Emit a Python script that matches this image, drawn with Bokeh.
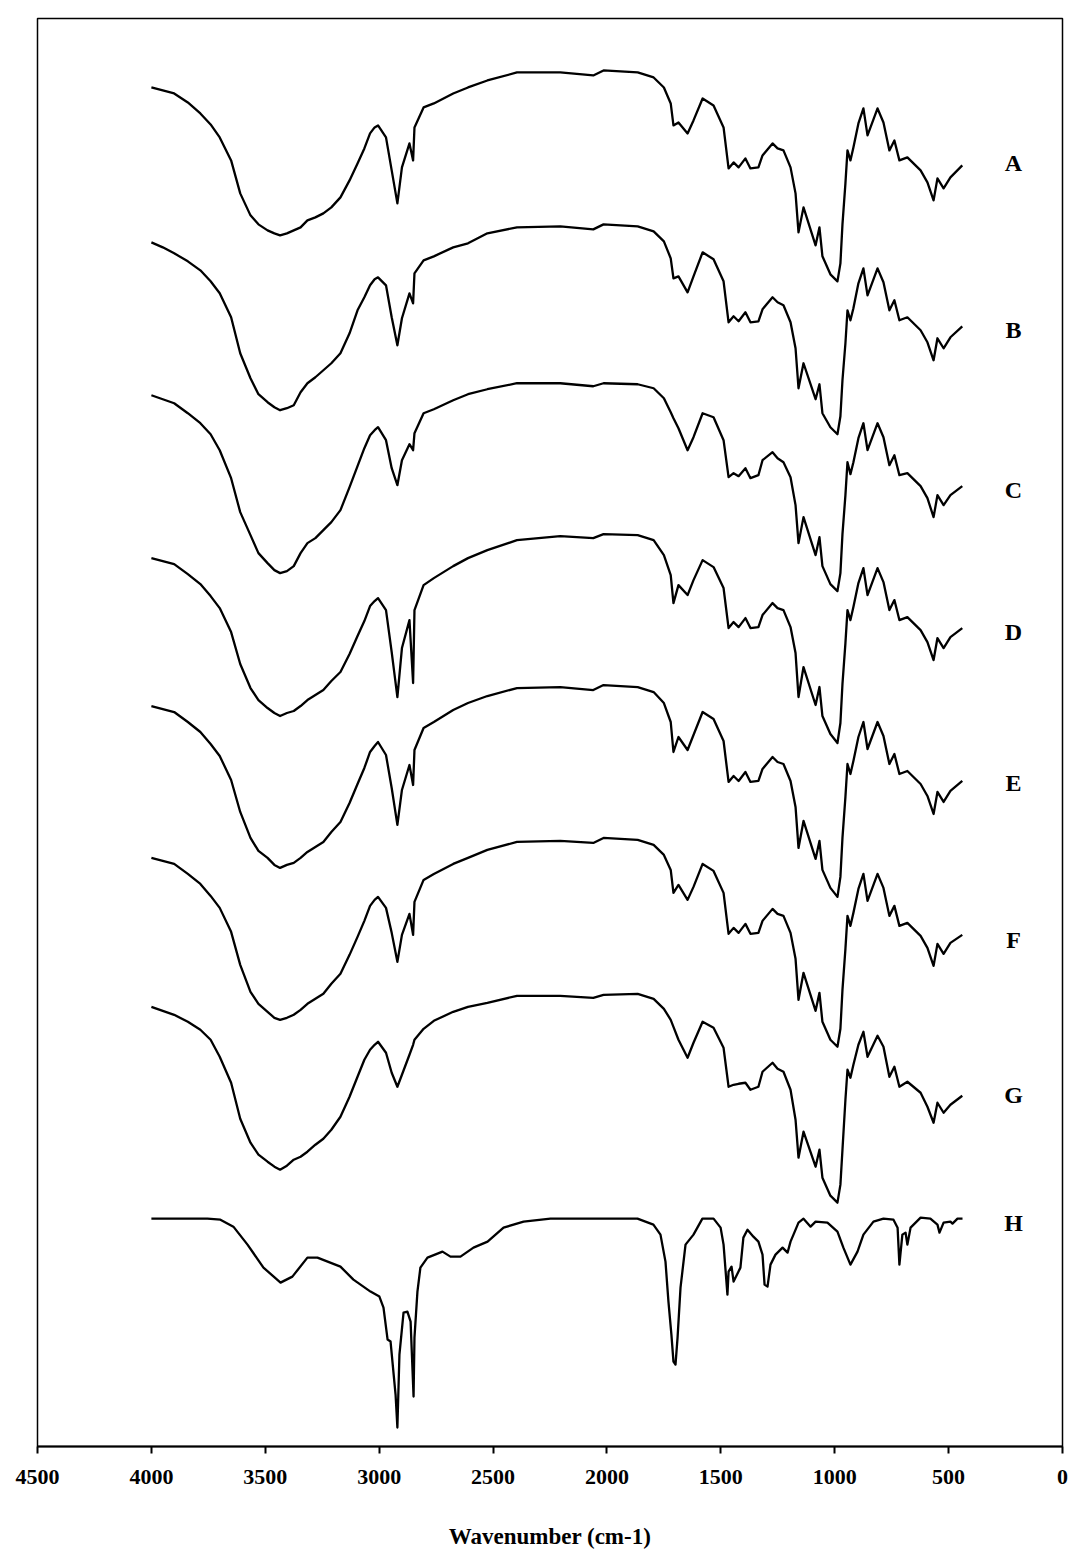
from bokeh.plotting import figure
from bokeh.models import Range1d, FixedTicker
from bokeh.embed import file_html
from bokeh.resources import INLINE
from bokeh.core.properties import value

# Wavenumber grid shared by the seven starch-type spectra (cm-1)
wavenumber = [
    4000, 3950, 3900, 3840, 3785, 3740, 3700, 3650, 3610, 3565,
    3530, 3490, 3460, 3435, 3405, 3375, 3345, 3315, 3280, 3245,
    3210, 3170, 3130, 3095, 3065, 3040, 3020, 3005, 2970, 2945,
    2920, 2900, 2867, 2851, 2845, 2805, 2760, 2675, 2610, 2525,
    2395, 2205, 2060, 2015, 1865, 1795, 1750, 1720, 1708, 1686,
    1646, 1620, 1580, 1532, 1488, 1466, 1444, 1422, 1392, 1370,
    1335, 1317, 1273, 1251, 1225, 1194, 1172, 1159, 1137, 1084,
    1067, 1054, 1019, 988, 975, 966, 953, 944, 931, 918,
    896, 874, 856, 812, 786, 760, 738, 716, 681, 623,
    593, 566, 549, 522, 492, 440,
]

# Stacked signal (offset units, larger = lower on the chart)
spec_A = [
    87, 90, 93, 102, 113, 124, 137, 160, 193, 215,
    224, 230, 233, 235, 233, 230, 227, 220, 217, 213,
    207, 197, 180, 163, 148, 133, 127, 125, 137, 170,
    203, 167, 143, 160, 127, 107, 103, 93, 87, 80,
    72, 72, 75, 70, 72, 77, 87, 103, 125, 122,
    133, 120, 98, 105, 127, 168, 162, 167, 158, 168,
    167, 155, 143, 148, 150, 167, 193, 232, 207, 245,
    227, 256, 274, 281, 263, 224, 183, 150, 160, 147,
    123, 108, 135, 108, 122, 150, 140, 160, 157, 170,
    182, 200, 178, 188, 177, 165,
]
spec_B = [
    242, 247, 253, 261, 270, 281, 293, 317, 353, 378,
    394, 402, 407, 410, 408, 405, 392, 383, 377, 370,
    363, 353, 333, 310, 297, 285, 279, 277, 285, 317,
    345, 318, 293, 303, 273, 260, 256, 247, 243, 233,
    227, 226, 229, 224, 226, 231, 241, 258, 278, 276,
    292, 276, 252, 259, 281, 322, 316, 321, 312, 322,
    321, 309, 297, 302, 305, 322, 348, 388, 363, 399,
    384, 413, 427, 434, 416, 380, 343, 310, 320, 308,
    283, 268, 295, 268, 282, 310, 300, 320, 317, 330,
    342, 360, 338, 348, 337, 326,
]
spec_C = [
    395, 399, 403, 413, 423, 434, 450, 478, 512, 535,
    553, 563, 570, 573, 571, 566, 553, 543, 538, 530,
    522, 510, 487, 466, 448, 435, 430, 427, 440, 468,
    485, 460, 444, 450, 433, 413, 409, 400, 394, 389,
    383, 383, 386, 383, 384, 388, 398, 412, 418, 428,
    450, 437, 413, 417, 440, 477, 473, 476, 468, 478,
    475, 460, 452, 458, 462, 477, 505, 543, 517, 555,
    537, 566, 584, 591, 573, 534, 495, 462, 474, 462,
    438, 423, 450, 423, 437, 465, 455, 475, 473, 486,
    498, 517, 495, 505, 495, 486,
]
spec_D = [
    558, 561, 564, 574, 584, 596, 608, 632, 664, 688,
    700, 708, 713, 716, 713, 711, 706, 700, 695, 690,
    681, 672, 654, 636, 621, 606, 601, 598, 610, 652,
    697, 648, 620, 683, 610, 585, 578, 566, 558, 550,
    540, 536, 538, 534, 535, 540, 555, 575, 603, 585,
    595, 580, 560, 567, 588, 628, 622, 627, 618, 628,
    627, 615, 603, 608, 610, 627, 653, 697, 667, 705,
    687, 716, 734, 743, 723, 684, 643, 610, 620, 607,
    583, 568, 595, 568, 582, 610, 600, 620, 617, 630,
    642, 660, 638, 648, 637, 628,
]
spec_E = [
    706, 709, 712, 722, 732, 744, 756, 780, 812, 838,
    851, 858, 865, 868, 865, 863, 858, 852, 847, 842,
    832, 822, 803, 784, 768, 752, 746, 742, 755, 788,
    825, 790, 765, 785, 750, 728, 722, 710, 703, 696,
    688, 687, 690, 685, 687, 692, 703, 722, 752, 737,
    750, 735, 712, 719, 741, 782, 776, 781, 772, 782,
    781, 769, 757, 762, 764, 781, 807, 848, 821, 859,
    841, 870, 888, 897, 877, 838, 797, 764, 774, 761,
    737, 722, 749, 722, 736, 764, 754, 774, 771, 784,
    796, 814, 792, 802, 791, 781,
]
spec_F = [
    858, 861, 864, 874, 884, 896, 908, 932, 965, 992,
    1004, 1012, 1018, 1020, 1018, 1015, 1010, 1004, 999, 994,
    984, 974, 955, 937, 921, 906, 900, 897, 908, 933,
    962, 935, 914, 935, 902, 880, 874, 864, 858, 850,
    842, 841, 843, 838, 840, 845, 855, 870, 893, 885,
    900, 887, 864, 871, 893, 934, 928, 933, 924, 934,
    933, 921, 909, 914, 916, 933, 959, 1000, 973, 1011,
    993, 1022, 1040, 1047, 1029, 990, 949, 916, 926, 913,
    889, 874, 901, 874, 888, 916, 906, 926, 923, 936,
    948, 966, 944, 954, 943, 935,
]
spec_G = [
    1007, 1011, 1015, 1022, 1030, 1040, 1057, 1083, 1119, 1143,
    1155, 1162, 1167, 1170, 1166, 1160, 1157, 1152, 1145, 1139,
    1130, 1117, 1097, 1077, 1060, 1050, 1045, 1042, 1053, 1073,
    1087, 1075, 1055, 1045, 1040, 1029, 1021, 1012, 1007, 1003,
    996, 996, 998, 995, 994, 999, 1009, 1020, 1027, 1040,
    1058, 1043, 1022, 1028, 1048, 1087, 1085, 1084, 1083, 1090,
    1087, 1072, 1063, 1069, 1072, 1090, 1120, 1158, 1132, 1167,
    1150, 1178, 1196, 1203, 1185, 1150, 1100, 1070, 1078, 1065,
    1045, 1032, 1057, 1036, 1047, 1077, 1067, 1087, 1082, 1093,
    1107, 1123, 1103, 1113, 1105, 1096,
]

# Wax-type reference spectrum H on its own grid
wavenumber_H = [
    4000, 3754, 3697, 3640, 3578, 3508, 3433, 3381, 3315, 3271,
    3170, 3113, 3038, 2999, 2981, 2963, 2950, 2928, 2920, 2911,
    2893, 2876, 2862, 2849, 2845, 2832, 2819, 2788, 2722, 2687,
    2643, 2586, 2524, 2454, 2366, 2248, 1866, 1796, 1765, 1743,
    1730, 1717, 1708, 1699, 1690, 1677, 1655, 1620, 1581, 1532,
    1501, 1488, 1471, 1466, 1453, 1444, 1414, 1401, 1383, 1357,
    1335, 1317, 1308, 1295, 1282, 1260, 1229, 1207, 1194, 1181,
    1159, 1137, 1106, 1084, 1032, 988, 962, 931, 900, 874,
    830, 786, 742, 724, 716, 703, 689, 681, 667, 623,
    580, 549, 540, 522, 492, 483, 461, 439,
]
spec_H = [
    1219, 1219, 1220, 1227, 1245, 1268, 1283, 1277, 1258, 1258,
    1267, 1280, 1292, 1297, 1308, 1340, 1342, 1395, 1428, 1355,
    1313, 1312, 1322, 1397, 1338, 1292, 1268, 1258, 1252, 1257,
    1257, 1248, 1242, 1228, 1222, 1219, 1219, 1225, 1235, 1262,
    1302, 1335, 1362, 1365, 1338, 1288, 1245, 1235, 1219, 1219,
    1228, 1245, 1295, 1272, 1267, 1282, 1268, 1238, 1230, 1237,
    1242, 1255, 1285, 1287, 1265, 1255, 1248, 1253, 1242, 1235,
    1223, 1219, 1227, 1222, 1223, 1232, 1248, 1265, 1252, 1235,
    1222, 1219, 1220, 1228, 1265, 1235, 1233, 1245, 1228, 1218,
    1219, 1225, 1233, 1223, 1222, 1224, 1219, 1219,
]

trace_names = ["A", "B", "C", "D", "E", "F", "G", "H"]
trace_label_level = [163, 330, 490, 632, 783, 940, 1095, 1223]
x_ticks = [0, 500, 1000, 1500, 2000, 2500, 3000, 3500, 4000, 4500]

FONT = "Liberation Serif"

p = figure(
    width=1070, height=1551,
    x_range=Range1d(4500, 0), y_range=Range1d(1447, 18),
    output_backend="svg", toolbar_location=None, title=None,
    y_axis_location=None,
    min_border_left=37, min_border_right=8,
    min_border_top=18, min_border_bottom=104,
)
p.grid.visible = False
p.outline_line_color = "black"
p.outline_line_width = 1.5
p.background_fill_color = "white"
p.border_fill_color = "white"

ax = p.xaxis[0]
ax.ticker = FixedTicker(ticks=x_ticks)
ax.axis_line_width = 2
ax.major_tick_line_width = 2
ax.major_tick_out = 7
ax.major_tick_in = 0
ax.minor_tick_out = 0
ax.minor_tick_in = 0
ax.major_label_text_font = FONT
ax.major_label_text_font_style = "bold"
ax.major_label_text_font_size = "22px"
ax.major_label_text_color = "black"
ax.major_label_standoff = 16
ax.axis_label = "Wavenumber (cm-1)"
ax.axis_label_text_font = FONT
ax.axis_label_text_font_style = "bold"
ax.axis_label_text_font_size = "23px"
ax.axis_label_text_color = "black"
ax.axis_label_standoff = 37

for ys in [spec_A, spec_B, spec_C, spec_D, spec_E, spec_F, spec_G]:
    p.line(wavenumber, ys, line_color="black", line_width=2.3, line_join="round")
p.line(wavenumber_H, spec_H, line_color="black", line_width=2.3, line_join="round")

p.text(
    x=[215] * len(trace_names), y=trace_label_level, text=trace_names,
    text_font=value(FONT), text_font_style="bold", text_font_size="24px",
    text_align="center", text_baseline="middle", text_color="black",
)

open("out.html", "w").write(file_html(p, INLINE))
